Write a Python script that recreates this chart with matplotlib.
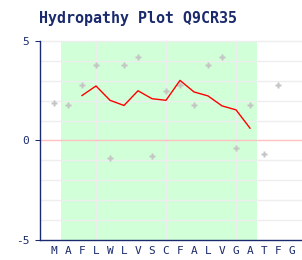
import matplotlib
matplotlib.use("Agg")
import matplotlib.pyplot as plt

residues = ["M", "A", "F", "L", "W", "L", "V", "S", "C", "F", "A", "L", "V", "G", "A", "T", "F", "G"]
# per-residue hydropathy (shown points, first 17 residues)
point_idx = list(range(17))
point_vals = [1.9, 1.8, 2.8, 3.8, -0.9, 3.8, 4.2, -0.8, 2.5, 2.8, 1.8, 3.8, 4.2, -0.4, 1.8, -0.7, 2.8]
# window-averaged curve
line_idx = [2, 3, 4, 5, 6, 7, 8, 9, 10, 11, 12, 13, 14]
line_vals = [2.26, 2.74, 2.02, 1.76, 2.5, 2.1, 2.02, 3.02, 2.44, 2.24, 1.74, 1.54, 0.62]
region = (0.5, 14.5)
yticks = [-5, 0, 5]
ytick_labels = ["-5", "0", "5"]

navy = "#1a2a6c"
W, H = 302, 260
fig = plt.figure(figsize=(W / 100, H / 100), dpi=100)
ax = fig.add_axes([40 / W, 20 / H, 262 / W, 200 / H])
ax.set_xlim(-1, -1 + 262 / 14)
ax.set_ylim(-5, 5.05)

ax.axvspan(region[0], region[1], ymin=0, ymax=10 / 10.05, color="#d0ffd8", zorder=0, lw=0)
for y in range(-4, 6):
    if y != 0:
        ax.axhline(y, color="#eeeeee", lw=1.0, zorder=1)
for x in [3, 8, 13]:
    ax.axvline(x, ymax=10 / 10.05, color="#eeeeee", lw=1.0, zorder=1)
ax.axhline(0, color="#ffc0c0", lw=1.0, zorder=1)

ax.plot(point_idx, point_vals, ls="none", marker="P", ms=4.5, color="#c4c4c4",
        mec="none", zorder=2)
ax.plot(line_idx, line_vals, color="#ff0000", lw=1.0, zorder=3)

for s in ["top", "right"]:
    ax.spines[s].set_visible(False)
for s in ["left", "bottom"]:
    ax.spines[s].set_color(navy)
    ax.spines[s].set_linewidth(1.0)
ax.spines["left"].set_bounds(-5, 5)

ax.set_xticks(range(len(residues)))
ax.set_xticklabels(residues, family="DejaVu Sans Mono", fontsize=8, color=navy)
ax.tick_params(axis="x", length=0, pad=4)
ax.set_yticks(yticks)
ax.set_yticklabels(ytick_labels, family="DejaVu Sans Mono", fontsize=8, color=navy)
ax.tick_params(axis="y", length=3.6, width=0.75, color=navy, pad=4)
ax.yaxis.get_major_ticks()[1].tick1line.set_color("#ffc0c0")

fig.text(39 / W, 1 - 18 / H, "Hydropathy Plot Q9CR35", family="DejaVu Sans Mono",
         fontweight="bold", fontsize=10.8, color=navy, va="center", ha="left")

fig.savefig("out.png", dpi=100)
